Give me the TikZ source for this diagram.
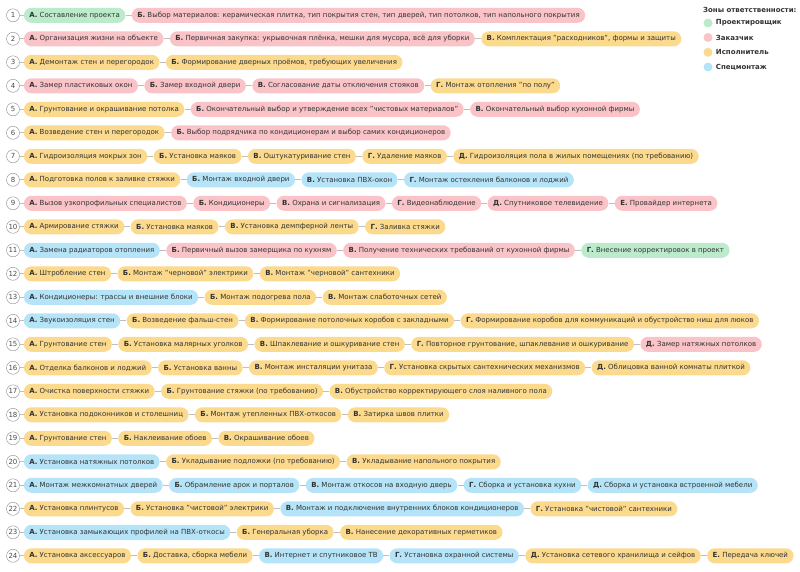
\documentclass[tikz,border=0pt]{standalone}
\usepackage{fontspec}
\setmainfont{DejaVu Sans}
\usetikzlibrary{positioning}
\definecolor{designercol}{HTML}{BCEBCB}
\definecolor{clientcol}{HTML}{F9C3C8}
\definecolor{buildercol}{HTML}{FBD98D}
\definecolor{fittercol}{HTML}{B5E3F7}
\begin{document}
\begin{tikzpicture}[x=1pt, y=-1pt,
	pill/.style={rounded corners=7.5pt, minimum height=15pt, inner xsep=5.5pt, inner ysep=0pt, font=\fontsize{7}{8}\selectfont, text=black!80},
	designer/.style={pill, fill=designercol},
	client/.style={pill, fill=clientcol},
	builder/.style={pill, fill=buildercol},
	fitter/.style={pill, fill=fittercol},
	num/.style={circle, draw=black!45, fill=white, minimum size=13pt, inner sep=0pt, font=\fontsize{7}{8}\selectfont, text=black!70},
	link/.style={draw=black!25, line width=0.8pt},
	dot/.style={circle, inner sep=0pt, minimum size=9pt},
	legend/.style={font=\fontsize{7}{8}\selectfont\bfseries, text=black!80, anchor=west, inner sep=0pt}]
	\useasboundingbox (0,0) rectangle (800,571);

	% legend
	\node[legend] (zones) at (703,10) {Зоны ответственности:};
	\node[dot, fill=designercol] (d1) at (708,23) {};
	\node[dot, fill=clientcol] (d2) at (708,37.5) {};
	\node[dot, fill=buildercol] (d3) at (708,52.3) {};
	\node[dot, fill=fittercol] (d4) at (708,67) {};
	\node[legend, right=3pt of d1] (l1) {Проектировщик};
	\node[legend, right=3pt of d2] (l2) {Заказчик};
	\node[legend, right=3pt of d3] (l3) {Исполнитель};
	\node[legend, right=3pt of d4] (l4) {Спецмонтаж};

	% 1
	\node[num] (n1) at (13,15.3) {1};
	\node[designer, right=4pt of n1] (r1a) {\textbf{А.} Составление проекта};
	\node[client, right=6pt of r1a] (r1b) {\textbf{Б.} Выбор материалов: керамическая плитка, тип покрытия стен, тип дверей, тип потолков, тип напольного покрытия};
	\draw[link] (n1) -- (r1a) -- (r1b);

	% 2
	\node[num] (n2) at (13,38.8) {2};
	\node[client, right=4pt of n2] (r2a) {\textbf{А.} Организация жизни на объекте};
	\node[client, right=6pt of r2a] (r2b) {\textbf{Б.} Первичная закупка: укрывочная плёнка, мешки для мусора, всё для уборки};
	\node[builder, right=6pt of r2b] (r2c) {\textbf{В.} Комплектация "расходников", формы и защиты};
	\draw[link] (n2) -- (r2a) -- (r2b) -- (r2c);

	% 3
	\node[num] (n3) at (13,62.3) {3};
	\node[builder, right=4pt of n3] (r3a) {\textbf{А.} Демонтаж стен и перегородок};
	\node[builder, right=6pt of r3a] (r3b) {\textbf{Б.} Формирование дверных проёмов, требующих увеличения};
	\draw[link] (n3) -- (r3a) -- (r3b);

	% 4
	\node[num] (n4) at (13,85.8) {4};
	\node[client, right=4pt of n4] (r4a) {\textbf{А.} Замер пластиковых окон};
	\node[client, right=6pt of r4a] (r4b) {\textbf{Б.} Замер входной двери};
	\node[client, right=6pt of r4b] (r4c) {\textbf{В.} Согласование даты отключения стояков};
	\node[builder, right=6pt of r4c] (r4d) {\textbf{Г.} Монтаж отопления "по полу"};
	\draw[link] (n4) -- (r4a) -- (r4b) -- (r4c) -- (r4d);

	% 5
	\node[num] (n5) at (13,109.3) {5};
	\node[builder, right=4pt of n5] (r5a) {\textbf{А.} Грунтование и окрашивание потолка};
	\node[client, right=6pt of r5a] (r5b) {\textbf{Б.} Окончательный выбор и утверждение всех "чистовых материалов"};
	\node[client, right=6pt of r5b] (r5c) {\textbf{В.} Окончательный выбор кухонной фирмы};
	\draw[link] (n5) -- (r5a) -- (r5b) -- (r5c);

	% 6
	\node[num] (n6) at (13,132.8) {6};
	\node[builder, right=4pt of n6] (r6a) {\textbf{А.} Возведение стен и перегородок};
	\node[client, right=6pt of r6a] (r6b) {\textbf{Б.} Выбор подрядчика по кондиционерам и выбор самих кондиционеров};
	\draw[link] (n6) -- (r6a) -- (r6b);

	% 7
	\node[num] (n7) at (13,156.3) {7};
	\node[builder, right=4pt of n7] (r7a) {\textbf{А.} Гидроизоляция мокрых зон};
	\node[builder, right=6pt of r7a] (r7b) {\textbf{Б.} Установка маяков};
	\node[builder, right=6pt of r7b] (r7c) {\textbf{В.} Оштукатуривание стен};
	\node[builder, right=6pt of r7c] (r7d) {\textbf{Г.} Удаление маяков};
	\node[builder, right=6pt of r7d] (r7e) {\textbf{Д.} Гидроизоляция пола в жилых помещениях (по требованию)};
	\draw[link] (n7) -- (r7a) -- (r7b) -- (r7c) -- (r7d) -- (r7e);

	% 8
	\node[num] (n8) at (13,179.8) {8};
	\node[builder, right=4pt of n8] (r8a) {\textbf{А.} Подготовка полов к заливке стяжки};
	\node[fitter, right=6pt of r8a] (r8b) {\textbf{Б.} Монтаж входной двери};
	\node[fitter, right=6pt of r8b] (r8c) {\textbf{В.} Установка ПВХ-окон};
	\node[fitter, right=6pt of r8c] (r8d) {\textbf{Г.} Монтаж остекления балконов и лоджий};
	\draw[link] (n8) -- (r8a) -- (r8b) -- (r8c) -- (r8d);

	% 9
	\node[num] (n9) at (13,203.3) {9};
	\node[client, right=4pt of n9] (r9a) {\textbf{А.} Вызов узкопрофильных специалистов};
	\node[client, right=6pt of r9a] (r9b) {\textbf{Б.} Кондиционеры};
	\node[client, right=6pt of r9b] (r9c) {\textbf{В.} Охрана и сигнализация};
	\node[client, right=6pt of r9c] (r9d) {\textbf{Г.} Видеонаблюдение};
	\node[client, right=6pt of r9d] (r9e) {\textbf{Д.} Спутниковое телевидение};
	\node[client, right=6pt of r9e] (r9f) {\textbf{Е.} Провайдер интернета};
	\draw[link] (n9) -- (r9a) -- (r9b) -- (r9c) -- (r9d) -- (r9e) -- (r9f);

	% 10
	\node[num] (n10) at (13,226.8) {10};
	\node[builder, right=4pt of n10] (r10a) {\textbf{А.} Армирование стяжки};
	\node[builder, right=6pt of r10a] (r10b) {\textbf{Б.} Установка маяков};
	\node[builder, right=6pt of r10b] (r10c) {\textbf{В.} Установка демпферной ленты};
	\node[builder, right=6pt of r10c] (r10d) {\textbf{Г.} Заливка стяжки};
	\draw[link] (n10) -- (r10a) -- (r10b) -- (r10c) -- (r10d);

	% 11
	\node[num] (n11) at (13,250.3) {11};
	\node[fitter, right=4pt of n11] (r11a) {\textbf{А.} Замена радиаторов отопления};
	\node[client, right=6pt of r11a] (r11b) {\textbf{Б.} Первичный вызов замерщика по кухням};
	\node[client, right=6pt of r11b] (r11c) {\textbf{В.} Получение технических требований от кухонной фирмы};
	\node[designer, right=6pt of r11c] (r11d) {\textbf{Г.} Внесение корректировок в проект};
	\draw[link] (n11) -- (r11a) -- (r11b) -- (r11c) -- (r11d);

	% 12
	\node[num] (n12) at (13,273.8) {12};
	\node[builder, right=4pt of n12] (r12a) {\textbf{А.} Штробление стен};
	\node[builder, right=6pt of r12a] (r12b) {\textbf{Б.} Монтаж "черновой" электрики};
	\node[builder, right=6pt of r12b] (r12c) {\textbf{В.} Монтаж "черновой" сантехники};
	\draw[link] (n12) -- (r12a) -- (r12b) -- (r12c);

	% 13
	\node[num] (n13) at (13,297.3) {13};
	\node[fitter, right=4pt of n13] (r13a) {\textbf{А.} Кондиционеры: трассы и внешние блоки};
	\node[builder, right=6pt of r13a] (r13b) {\textbf{Б.} Монтаж подогрева пола};
	\node[builder, right=6pt of r13b] (r13c) {\textbf{В.} Монтаж слаботочных сетей};
	\draw[link] (n13) -- (r13a) -- (r13b) -- (r13c);

	% 14
	\node[num] (n14) at (13,320.8) {14};
	\node[fitter, right=4pt of n14] (r14a) {\textbf{А.} Звукоизоляция стен};
	\node[builder, right=6pt of r14a] (r14b) {\textbf{Б.} Возведение фальш-стен};
	\node[builder, right=6pt of r14b] (r14c) {\textbf{В.} Формирование потолочных коробов с закладными};
	\node[builder, right=6pt of r14c] (r14d) {\textbf{Г.} Формирование коробов для коммуникаций и обустройство ниш для люков};
	\draw[link] (n14) -- (r14a) -- (r14b) -- (r14c) -- (r14d);

	% 15
	\node[num] (n15) at (13,344.3) {15};
	\node[builder, right=4pt of n15] (r15a) {\textbf{А.} Грунтование стен};
	\node[builder, right=6pt of r15a] (r15b) {\textbf{Б.} Установка малярных уголков};
	\node[builder, right=6pt of r15b] (r15c) {\textbf{В.} Шпаклевание и ошкуривание стен};
	\node[builder, right=6pt of r15c] (r15d) {\textbf{Г.} Повторное грунтование, шпаклевание и ошкуривание};
	\node[client, right=6pt of r15d] (r15e) {\textbf{Д.} Замер натяжных потолков};
	\draw[link] (n15) -- (r15a) -- (r15b) -- (r15c) -- (r15d) -- (r15e);

	% 16
	\node[num] (n16) at (13,367.8) {16};
	\node[builder, right=4pt of n16] (r16a) {\textbf{А.} Отделка балконов и лоджий};
	\node[builder, right=6pt of r16a] (r16b) {\textbf{Б.} Установка ванны};
	\node[builder, right=6pt of r16b] (r16c) {\textbf{В.} Монтаж инсталяции унитаза};
	\node[builder, right=6pt of r16c] (r16d) {\textbf{Г.} Установка скрытых сантехнических механизмов};
	\node[builder, right=6pt of r16d] (r16e) {\textbf{Д.} Облицовка ванной комнаты плиткой};
	\draw[link] (n16) -- (r16a) -- (r16b) -- (r16c) -- (r16d) -- (r16e);

	% 17
	\node[num] (n17) at (13,391.3) {17};
	\node[builder, right=4pt of n17] (r17a) {\textbf{А.} Очистка поверхности стяжки};
	\node[builder, right=6pt of r17a] (r17b) {\textbf{Б.} Грунтование стяжки (по требованию)};
	\node[builder, right=6pt of r17b] (r17c) {\textbf{В.} Обустройство корректирующего слоя наливного пола};
	\draw[link] (n17) -- (r17a) -- (r17b) -- (r17c);

	% 18
	\node[num] (n18) at (13,414.8) {18};
	\node[builder, right=4pt of n18] (r18a) {\textbf{А.} Установка подоконников и столешниц};
	\node[builder, right=6pt of r18a] (r18b) {\textbf{Б.} Монтаж утепленных ПВХ-откосов};
	\node[builder, right=6pt of r18b] (r18c) {\textbf{В.} Затирка швов плитки};
	\draw[link] (n18) -- (r18a) -- (r18b) -- (r18c);

	% 19
	\node[num] (n19) at (13,438.3) {19};
	\node[builder, right=4pt of n19] (r19a) {\textbf{А.} Грунтование стен};
	\node[builder, right=6pt of r19a] (r19b) {\textbf{Б.} Наклеивание обоев};
	\node[builder, right=6pt of r19b] (r19c) {\textbf{В.} Окрашивание обоев};
	\draw[link] (n19) -- (r19a) -- (r19b) -- (r19c);

	% 20
	\node[num] (n20) at (13,461.8) {20};
	\node[fitter, right=4pt of n20] (r20a) {\textbf{А.} Установка натяжных потолков};
	\node[builder, right=6pt of r20a] (r20b) {\textbf{Б.} Укладывание подложки (по требованию)};
	\node[builder, right=6pt of r20b] (r20c) {\textbf{В.} Укладывание напольного покрытия};
	\draw[link] (n20) -- (r20a) -- (r20b) -- (r20c);

	% 21
	\node[num] (n21) at (13,485.3) {21};
	\node[fitter, right=4pt of n21] (r21a) {\textbf{А.} Монтаж межкомнатных дверей};
	\node[fitter, right=6pt of r21a] (r21b) {\textbf{Б.} Обрамление арок и порталов};
	\node[fitter, right=6pt of r21b] (r21c) {\textbf{В.} Монтаж откосов на входную дверь};
	\node[fitter, right=6pt of r21c] (r21d) {\textbf{Г.} Сборка и установка кухни};
	\node[fitter, right=6pt of r21d] (r21e) {\textbf{Д.} Сборка и установка встроенной мебели};
	\draw[link] (n21) -- (r21a) -- (r21b) -- (r21c) -- (r21d) -- (r21e);

	% 22
	\node[num] (n22) at (13,508.8) {22};
	\node[builder, right=4pt of n22] (r22a) {\textbf{А.} Установка плинтусов};
	\node[builder, right=6pt of r22a] (r22b) {\textbf{Б.} Установка "чистовой" электрики};
	\node[fitter, right=6pt of r22b] (r22c) {\textbf{В.} Монтаж и подключение внутренних блоков кондиционеров};
	\node[builder, right=6pt of r22c] (r22d) {\textbf{Г.} Установка "чистовой" сантехники};
	\draw[link] (n22) -- (r22a) -- (r22b) -- (r22c) -- (r22d);

	% 23
	\node[num] (n23) at (13,532.3) {23};
	\node[fitter, right=4pt of n23] (r23a) {\textbf{А.} Установка замыкающих профилей на ПВХ-откосы};
	\node[builder, right=6pt of r23a] (r23b) {\textbf{Б.} Генеральная уборка};
	\node[builder, right=6pt of r23b] (r23c) {\textbf{В.} Нанесение декоративных герметиков};
	\draw[link] (n23) -- (r23a) -- (r23b) -- (r23c);

	% 24
	\node[num] (n24) at (13,555.8) {24};
	\node[builder, right=4pt of n24] (r24a) {\textbf{А.} Установка аксессуаров};
	\node[builder, right=6pt of r24a] (r24b) {\textbf{Б.} Доставка, сборка мебели};
	\node[fitter, right=6pt of r24b] (r24c) {\textbf{В.} Интернет и спутниковое ТВ};
	\node[fitter, right=6pt of r24c] (r24d) {\textbf{Г.} Установка охранной системы};
	\node[builder, right=6pt of r24d] (r24e) {\textbf{Д.} Установка сетевого хранилища и сейфов};
	\node[builder, right=6pt of r24e] (r24f) {\textbf{Е.} Передача ключей};
	\draw[link] (n24) -- (r24a) -- (r24b) -- (r24c) -- (r24d) -- (r24e) -- (r24f);
\end{tikzpicture}
\end{document}
